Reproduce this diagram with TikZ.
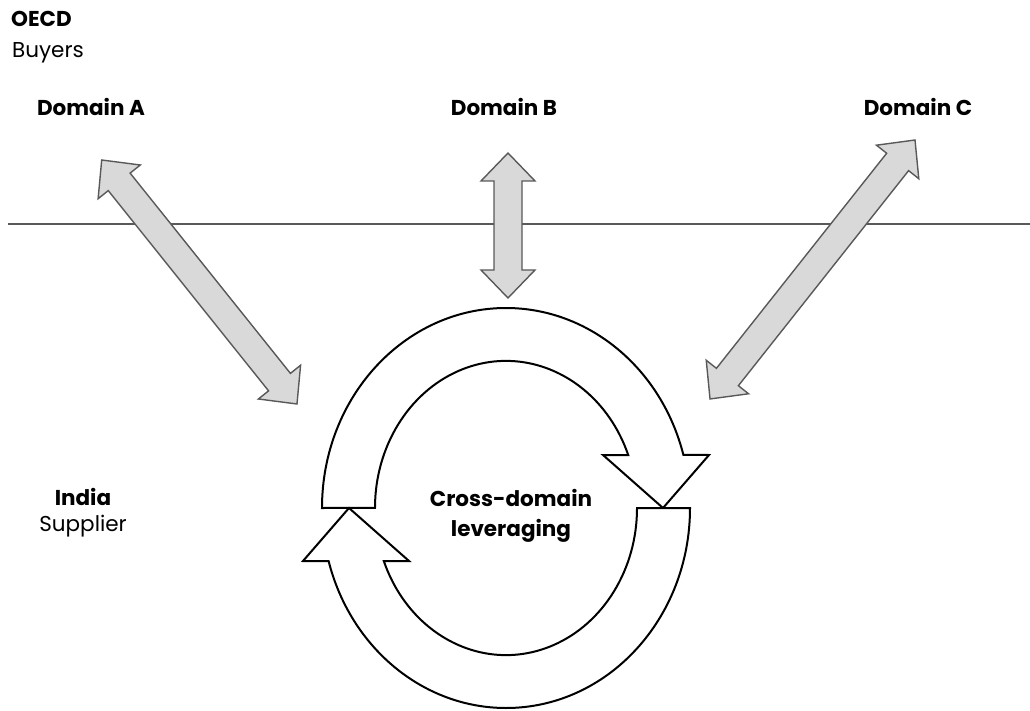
\documentclass[tikz,border=0pt]{standalone}
\usepackage{fontspec}
\setmainfont{Poppins}
\usetikzlibrary{calc}

% fat two-headed arrow between two named coordinates
\newcommand{\fatarrow}[2]{%
  \path let \p1=($(#2)-(#1)$), \n1={veclen(\x1,\y1)}, \n2={atan2(\y1,\x1)} in
    \pgfextra{\pgfmathsetmacro\tmplen{\n1}\pgfmathsetmacro\tmpang{\n2}%
      \global\let\arrlen\tmplen\global\let\arrang\tmpang};
  \begin{scope}[shift={(#1)}, rotate=\arrang]
    \draw[twoway] (0,0) -- (28,27) -- (28,14) -- (\arrlen-28,14)
      -- (\arrlen-28,27) -- (\arrlen,0) -- (\arrlen-28,-27)
      -- (\arrlen-28,-14) -- (28,-14) -- (28,-27) -- cycle;
  \end{scope}}

\begin{document}
\begin{tikzpicture}[%
    x=1pt, y=1pt,
    lighttext/.style={%
      inner sep=0pt,                       % tight box
      font=\fontsize{21.5}{26}\selectfont  % plain writing
    },
    boldtext/.style={%
      inner sep=0pt,
      font=\fontsize{21.5}{30}\selectfont\bfseries
    },
    twoway/.style={%
      draw=black!65,    % dark grey edge
      fill=black!15,    % light grey body
      line width=1.4pt,
      line join=miter
    },
    loopband/.style={%
      draw=black,       % black edge
      fill=white,       % empty body
      line width=2pt,
      line join=miter
    },
    divider/.style={%
      draw=black!65,
      line width=1.4pt
    }
]
    \useasboundingbox (0,0) rectangle (1030,-711);

    % labels
    \node[boldtext,  anchor=base west] (oecd)     at (11,-27)  {OECD};
    \node[lighttext, anchor=base west] (buyers)   at (12,-58)  {Buyers};
    \node[boldtext,  anchor=base]      (domA)     at (91,-116) {Domain A};
    \node[boldtext,  anchor=base]      (domB)     at (504,-116) {Domain B};
    \node[boldtext,  anchor=base]      (domC)     at (918,-116) {Domain C};
    \node[boldtext,  anchor=base]      (india)    at (83,-505) {India};
    \node[lighttext, anchor=base]      (supplier) at (83,-531) {Supplier};
    \node[boldtext,  align=center]     (cross)    at (511,-516) {Cross-domain\\leveraging};

    % border between buyers and supplier
    \draw[divider] (8,-224) -- (1030,-224);

    % arrow ends
    \coordinate (a1) at (101.7,-160);
    \coordinate (a2) at (297,-404);
    \coordinate (b1) at (508,-153);
    \coordinate (b2) at (508,-298);
    \coordinate (c1) at (915,-140);
    \coordinate (c2) at (710,-399);

    % links to the domains
    \fatarrow{a1}{a2}
    \fatarrow{b1}{b2}
    \fatarrow{c1}{c2}

    % leveraging cycle
    \coordinate (hub) at (506,-508);
    \foreach \turn in {0,180} {
      \begin{scope}[shift={(hub)}, rotate=\turn]
        \draw[loopband] (-184,0)
          arc[start angle=180, end angle=15.4, x radius=184, y radius=200]
          -- (203,53) -- (157,0) -- (97,53) -- (122.2,53)
          arc[start angle=21.1, end angle=180, x radius=131, y radius=147]
          -- cycle;
      \end{scope}
    }

\end{tikzpicture}
\end{document}
